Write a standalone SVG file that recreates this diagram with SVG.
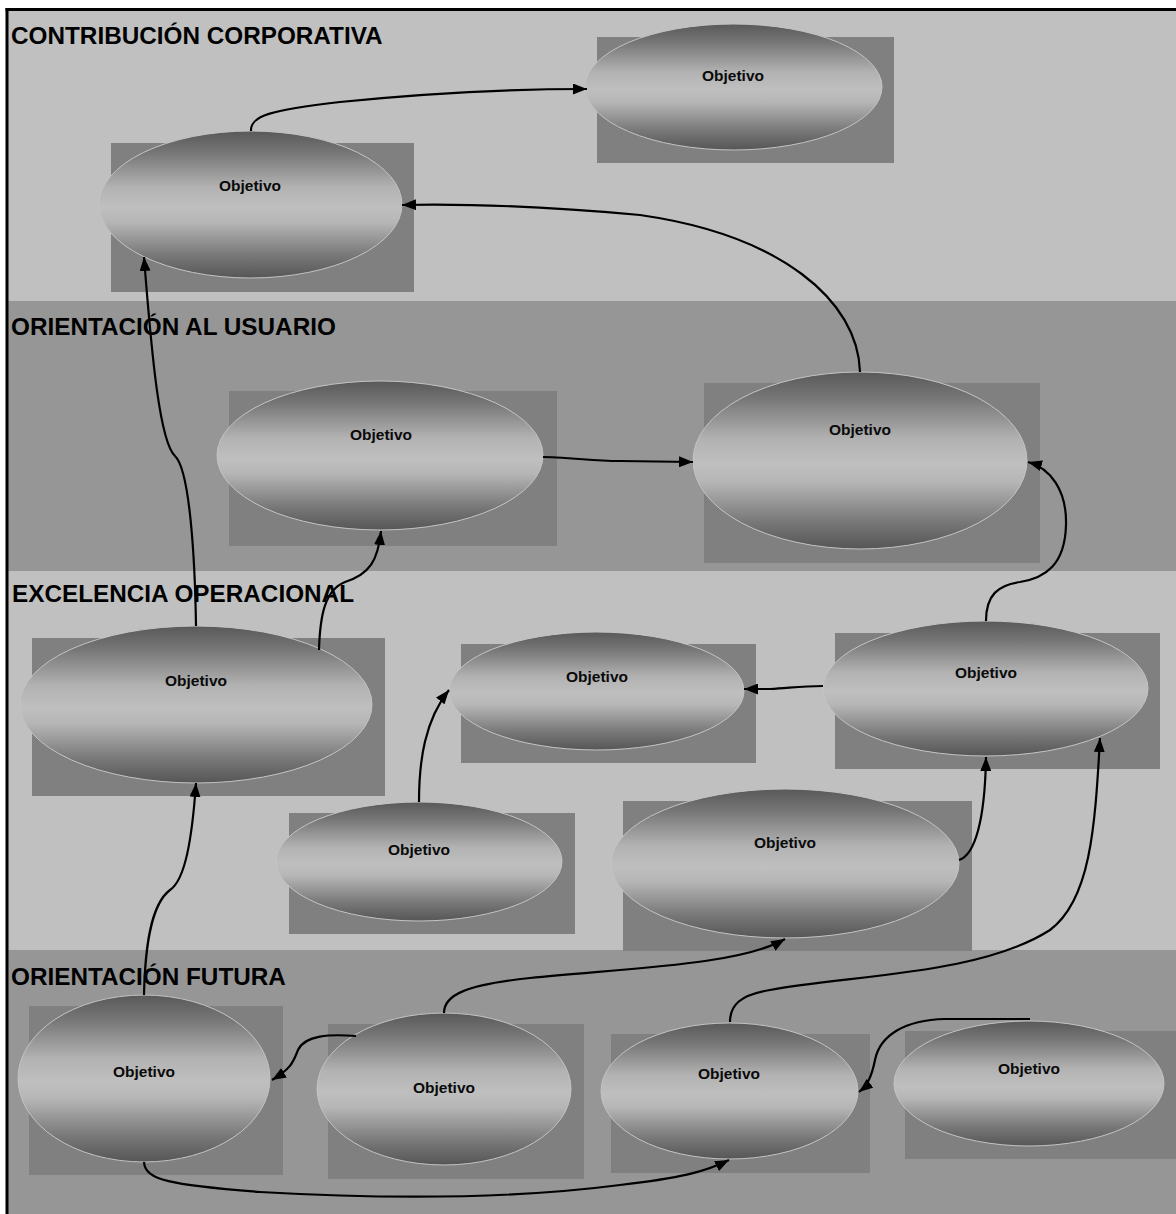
<svg xmlns="http://www.w3.org/2000/svg" width="1176" height="1214" viewBox="0 0 1176 1214">
<style>
.band-l{fill:#c0c0c0}
.band-d{fill:#969696}
.bl{font-family:"Liberation Sans",Arial,sans-serif;font-weight:bold;font-size:24.3px;fill:#000}
.box{fill:#808080}
.ov{fill:url(#g);stroke:#c4c4c4;stroke-width:1}
.lbl{font-family:"Liberation Sans",Arial,sans-serif;font-weight:bold;font-size:15.5px;fill:#0a0a0a;text-anchor:middle}
.c{fill:none;stroke:#000;stroke-width:2.2;marker-end:url(#arr)}
</style>
<defs>
<linearGradient id="g" x1="0" y1="0" x2="0" y2="1">
<stop offset="0" stop-color="#595959"/>
<stop offset="0.15" stop-color="#777"/>
<stop offset="0.38" stop-color="#b2b2b2"/>
<stop offset="0.52" stop-color="#bfbfbf"/>
<stop offset="0.62" stop-color="#b6b6b6"/>
<stop offset="0.85" stop-color="#777"/>
<stop offset="1" stop-color="#565656"/>
</linearGradient>
<marker id="arr" viewBox="0 0 14 11" refX="14" refY="5.5" markerWidth="14" markerHeight="11" orient="auto" markerUnits="userSpaceOnUse">
<path d="M0,0 L14,5.5 L0,11 z" fill="#000"/>
</marker>
</defs>
<rect width="1176" height="1214" fill="#fff"/>
<g id="bands">
<rect class="band-l" x="8" y="10" width="1168" height="291"/>
<rect class="band-d" x="8" y="301" width="1168" height="270"/>
<rect class="band-l" x="8" y="571" width="1168" height="379"/>
<rect class="band-d" x="8" y="950" width="1168" height="264"/>
<text class="bl" x="11" y="44">CONTRIBUCIÓN CORPORATIVA</text>
<text class="bl" x="11" y="335">ORIENTACIÓN AL USUARIO</text>
<text class="bl" x="12" y="602">EXCELENCIA OPERACIONAL</text>
<text class="bl" x="11" y="985">ORIENTACIÓN FUTURA</text>
</g>
<g id="frame">
<line x1="7" y1="8" x2="7" y2="1214" stroke="#000" stroke-width="3"/>
<line x1="5.5" y1="9.5" x2="1176" y2="9.5" stroke="#000" stroke-width="3"/>
</g>
<g id="nodeA"><rect class="box" x="597" y="37" width="297" height="126"/><ellipse class="ov" cx="733.5" cy="87" rx="148.5" ry="63"/><text class="lbl" x="733" y="81">Objetivo</text></g>
<g id="nodeB"><rect class="box" x="111" y="143" width="303" height="149"/><ellipse class="ov" cx="250.5" cy="204.5" rx="151.5" ry="73.5"/><text class="lbl" x="250" y="191">Objetivo</text></g>
<g id="nodeC"><rect class="box" x="229" y="391" width="328" height="155"/><ellipse class="ov" cx="380" cy="455.5" rx="163" ry="74.5"/><text class="lbl" x="381" y="440">Objetivo</text></g>
<g id="nodeD"><rect class="box" x="704" y="383" width="336" height="180"/><ellipse class="ov" cx="860" cy="460.5" rx="167" ry="88.5"/><text class="lbl" x="860" y="435">Objetivo</text></g>
<g id="nodeE"><rect class="box" x="32" y="638" width="353" height="158"/><ellipse class="ov" cx="196" cy="704.5" rx="176" ry="78.5"/><text class="lbl" x="196" y="686">Objetivo</text></g>
<g id="nodeF"><rect class="box" x="461" y="644" width="295" height="119"/><ellipse class="ov" cx="596.5" cy="691" rx="147.5" ry="59"/><text class="lbl" x="597" y="682">Objetivo</text></g>
<g id="nodeG"><rect class="box" x="835" y="633" width="325" height="136"/><ellipse class="ov" cx="985.5" cy="688.5" rx="162.5" ry="67.5"/><text class="lbl" x="986" y="678">Objetivo</text></g>
<g id="nodeH"><rect class="box" x="289" y="813" width="286" height="121"/><ellipse class="ov" cx="419" cy="861.5" rx="143" ry="59.5"/><text class="lbl" x="419" y="855">Objetivo</text></g>
<g id="nodeI"><rect class="box" x="623" y="801" width="349" height="150"/><ellipse class="ov" cx="785" cy="863.5" rx="174" ry="74.5"/><text class="lbl" x="785" y="848">Objetivo</text></g>
<g id="nodeJ"><rect class="box" x="29" y="1006" width="254" height="169"/><ellipse class="ov" cx="144" cy="1078.5" rx="126" ry="83.5"/><text class="lbl" x="144" y="1077">Objetivo</text></g>
<g id="nodeK"><rect class="box" x="328" y="1024" width="256" height="155"/><ellipse class="ov" cx="444" cy="1089" rx="127" ry="76"/><text class="lbl" x="444" y="1093">Objetivo</text></g>
<g id="nodeL"><rect class="box" x="611" y="1034" width="259" height="139"/><ellipse class="ov" cx="729.5" cy="1091" rx="128.5" ry="68"/><text class="lbl" x="729" y="1079">Objetivo</text></g>
<g id="nodeM"><rect class="box" x="905" y="1031" width="271" height="128"/><ellipse class="ov" cx="1029" cy="1083.5" rx="135" ry="62.5"/><text class="lbl" x="1029" y="1074">Objetivo</text></g>
<g id="connectors">
<path class="c" d="M251,131 C250,116 270,110 340,102 C430,93 520,89 587,89"/>
<path class="c" d="M860,372 C858,300 780,235 640,215 C530,205 450,204 402,205"/>
<path class="c" d="M196,626 C195,560 190,470 175,456 C160,442 152,360 144,257"/>
<path class="c" d="M319,650 C320,615 325,590 345,582 C370,574 378,560 381,531"/>
<path class="c" d="M543,457 C580,458 590,461 620,461 L693,462"/>
<path class="c" d="M986,621 C986,595 998,585 1020,582 C1045,578 1065,565 1066,525 C1067,490 1050,468 1028,462"/>
<path class="c" d="M823,686 C800,686 790,688 770,689 L744,689"/>
<path class="c" d="M419,802 C419,760 425,720 449,690"/>
<path class="c" d="M959,860 C975,855 985,820 986,757"/>
<path class="c" d="M730,1022 C730,1005 740,995 770,990 C850,975 980,975 1050,930 C1090,900 1095,830 1100,738"/>
<path class="c" d="M444,1013 C444,995 465,985 530,978 C630,968 740,965 785,939"/>
<path class="c" d="M356,1036 C330,1034 305,1035 298,1050 C293,1062 292,1068 272,1080"/>
<path class="c" d="M144,1162 C145,1180 170,1185 260,1192 C400,1200 520,1198 620,1185 C680,1178 705,1172 729,1160"/>
<path class="c" d="M1030,1019 L945,1019 C905,1020 880,1035 875,1060 C872,1075 868,1085 859,1092"/>
<path class="c" d="M144,995 C145,950 150,905 170,890 C185,880 192,840 196,783"/>
</g>
</svg>
